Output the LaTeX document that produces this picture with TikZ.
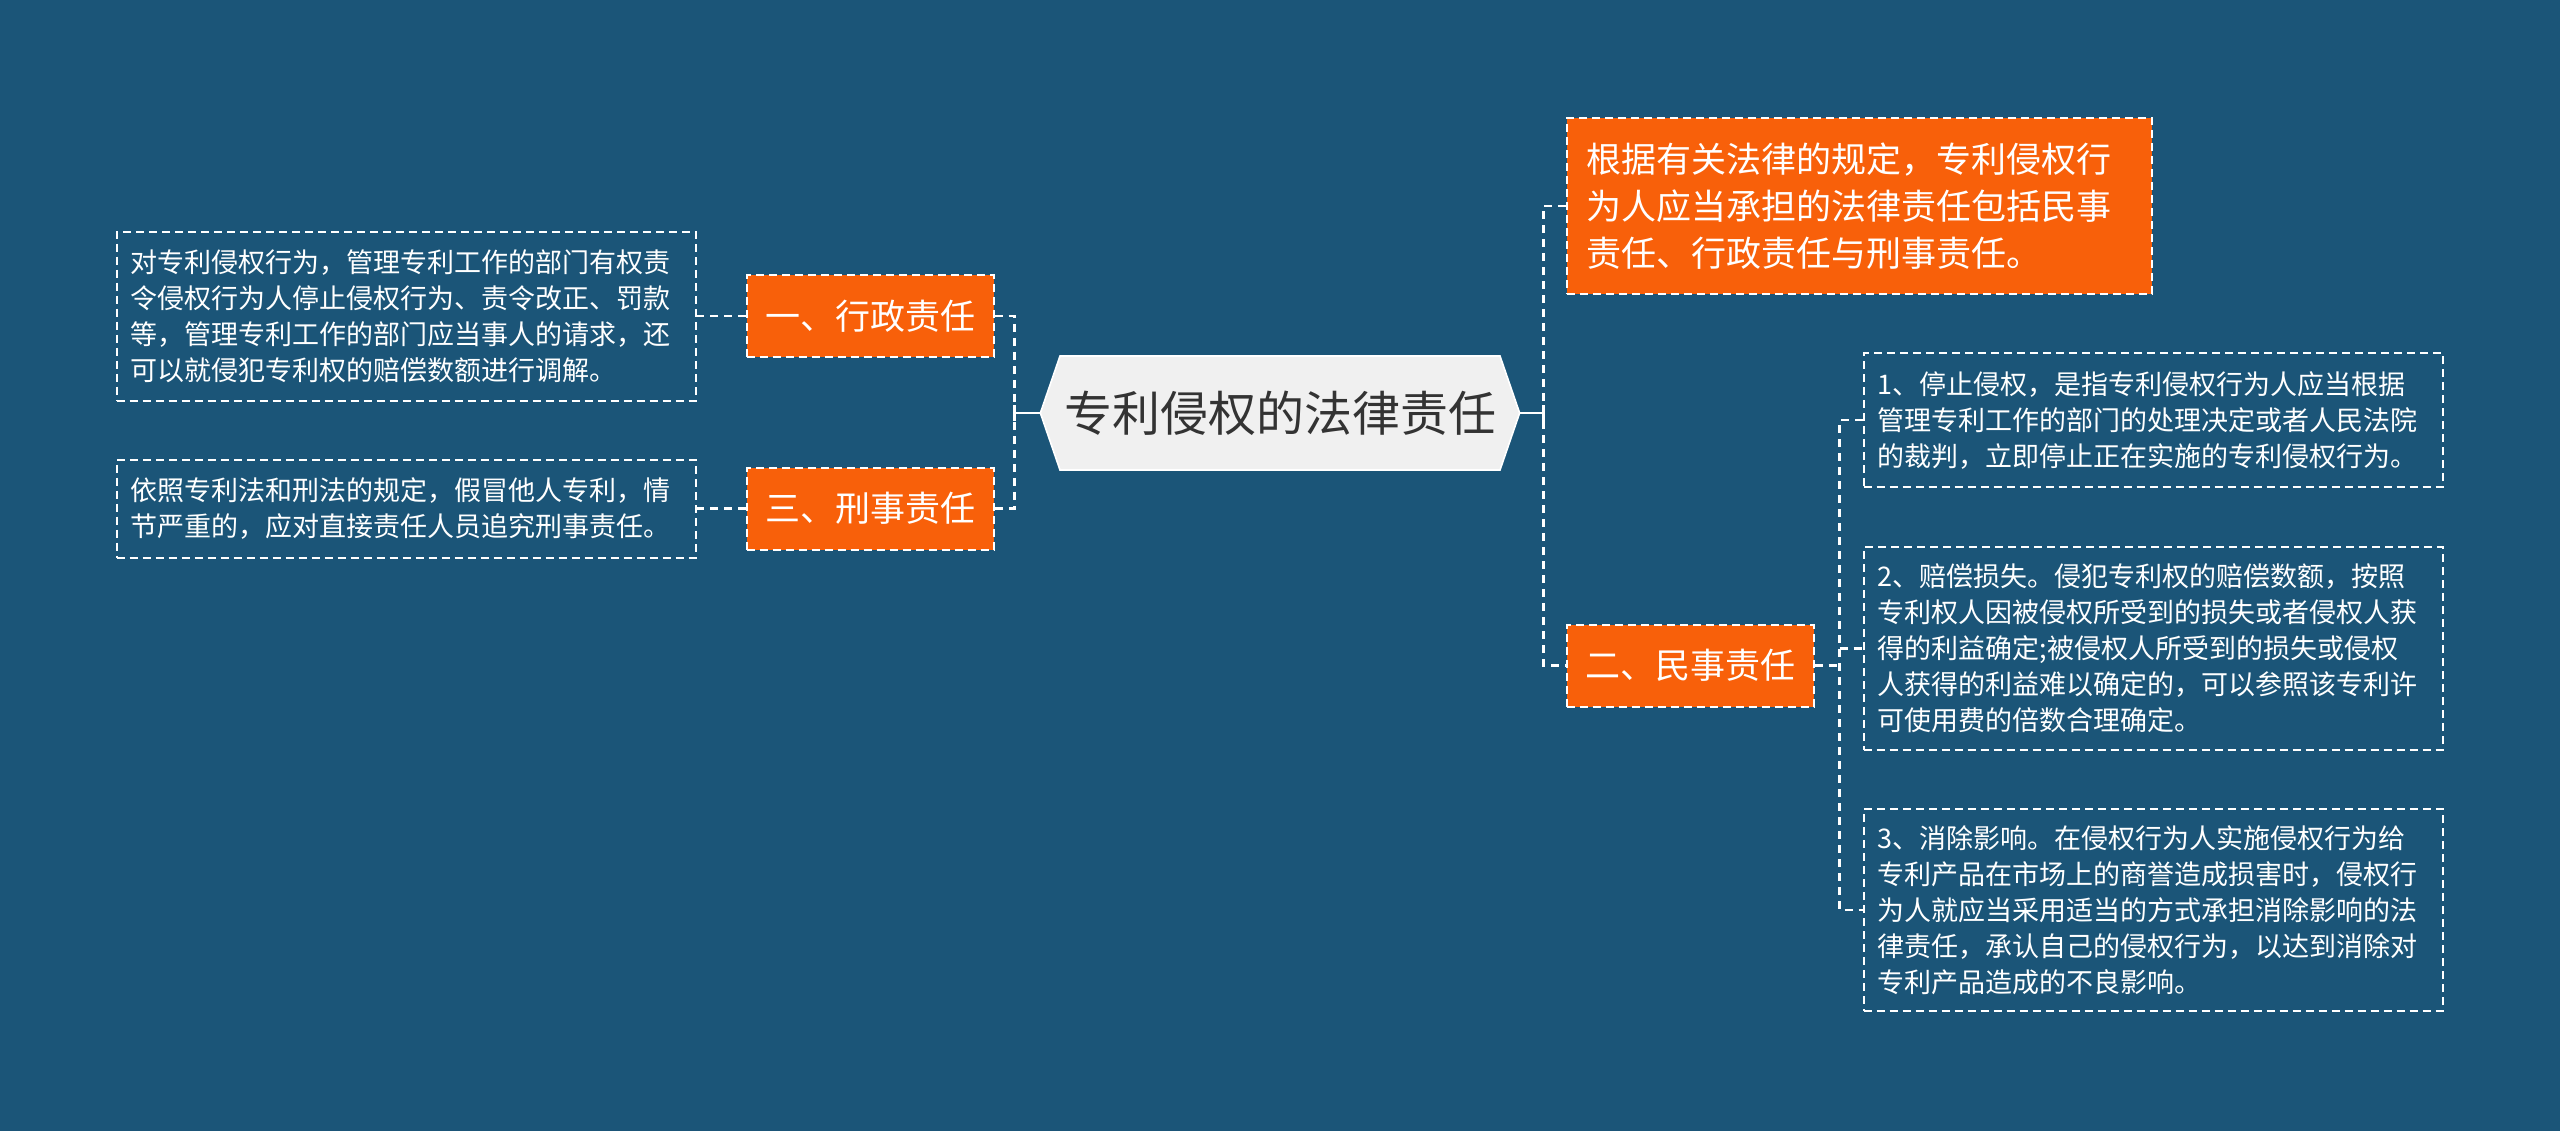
\documentclass[tikz,border=0pt]{standalone}
\usepackage{fontspec}
\setmainfont{Noto Sans CJK SC}
\usepackage{tikz}
\usetikzlibrary{shapes.symbols}
\definecolor{bgblue}{HTML}{1B5578}
\definecolor{mindorange}{HTML}{F8600A}
\definecolor{rootgray}{HTML}{F0F0F0}
\definecolor{rootink}{HTML}{333333}
\tikzstyle{root} = [signal, signal to=west and east, signal pointer angle=142, inner xsep=2pt, minimum width=217.5pt, minimum height=57pt, draw=white, line width=0.8pt, fill=rootgray, text=rootink, font=\fontsize{24}{28}\selectfont]
\tikzstyle{branch} = [rectangle, minimum width=123.5pt, minimum height=41pt, draw=white, line width=1pt, dash pattern=on 4pt off 2.5pt, fill=mindorange, text=white, font=\fontsize{17.5}{21}\selectfont]
\tikzstyle{summary} = [rectangle, text width=273.5pt, inner xsep=9.5pt, minimum height=88pt, align=left, draw=white, line width=1pt, dash pattern=on 4pt off 2.5pt, fill=mindorange, text=white, font=\fontsize{17.5}{23.5}\selectfont]
\tikzstyle{note} = [rectangle, text width=275.5pt, inner xsep=7pt, align=left, draw=white, line width=1pt, dash pattern=on 4pt off 2.5pt, text=white, font=\fontsize{13.5}{18}\selectfont]
\tikzstyle{link} = [draw=white, line width=1.2pt, dash pattern=on 4pt off 3pt]
\tikzstyle{stem} = [draw=white, line width=1.2pt]

\begin{document}
\begin{tikzpicture}[node distance=205pt]
  \fill [bgblue] (0,0) rectangle (1280pt,-565.5pt);
  \node (root) [root] at (640pt,-206.5pt) {专利侵权的法律责任};
  \node (admin) [branch, left of=root, yshift=48.5pt] {一、行政责任};
  \node (crime) [branch, left of=root, yshift=-47.75pt] {三、刑事责任};
  \node (civil) [branch, right of=root, yshift=-126.25pt] {二、民事责任};
  \node (adminnote) [note, minimum height=84.5pt, node distance=232pt, left of=admin] {对专利侵权行为，管理专利工作的部门有权责\\令侵权行为人停止侵权行为、责令改正、罚款\\等，管理专利工作的部门应当事人的请求，还\\可以就侵犯专利权的赔偿数额进行调解。};
  \node (crimenote) [note, minimum height=49pt, node distance=232pt, left of=crime] {依照专利法和刑法的规定，假冒他人专利，情\\节严重的，应对直接责任人员追究刑事责任。};
  \node (summary) [summary, node distance=289.75pt, right of=root, yshift=103.5pt] {根据有关法律的规定，专利侵权行\\为人应当承担的法律责任包括民事\\责任、行政责任与刑事责任。};
  \node (civilnote1) [note, minimum height=67pt, node distance=231.5pt, right of=civil, yshift=122.75pt] {1、停止侵权，是指专利侵权行为人应当根据\\管理专利工作的部门的处理决定或者人民法院\\的裁判，立即停止正在实施的专利侵权行为。};
  \node (civilnote2) [note, minimum height=101.5pt, node distance=231.5pt, right of=civil, yshift=8.5pt] {2、赔偿损失。侵犯专利权的赔偿数额，按照\\专利权人因被侵权所受到的损失或者侵权人获\\得的利益确定;被侵权人所受到的损失或侵权\\人获得的利益难以确定的，可以参照该专利许\\可使用费的倍数合理确定。};
  \node (civilnote3) [note, minimum height=101pt, node distance=231.5pt, right of=civil, yshift=-122.25pt] {3、消除影响。在侵权行为人实施侵权行为给\\专利产品在市场上的商誉造成损害时，侵权行\\为人就应当采用适当的方式承担消除影响的法\\律责任，承认自己的侵权行为，以达到消除对\\专利产品造成的不良影响。};

  \coordinate (ljoin) at ([xshift=-12.5pt]root.west);
  \coordinate (rjoin) at ([xshift=11.5pt]root.east);
  \coordinate (cjoin) at ([xshift=12.5pt]civil.east);

  \draw [stem] (root.west) -- (ljoin);
  \draw [stem] ([yshift=4pt]ljoin) -- ([yshift=-4pt]ljoin);
  \draw [stem] (root.east) -- (rjoin);
  \draw [stem] ([yshift=4pt]rjoin) -- ([yshift=-4pt]rjoin);
  \draw [link] (admin.east) -- (ljoin |- admin) -- (ljoin |- crime) -- (crime.east);
  \draw [link] (admin.west) -- (adminnote.east);
  \draw [link] (crime.west) -- (crimenote.east);
  \draw [link] (summary.west) -- (rjoin |- summary) -- (rjoin |- civil) -- (civil.west);
  \draw [link] (civil.east) -- (cjoin);
  \draw [link] (civilnote1.west) -- (cjoin |- civilnote1) -- (cjoin |- civilnote3) -- (civilnote3.west);
  \draw [link] (cjoin |- civilnote2) -- (civilnote2.west);
\end{tikzpicture}
\end{document}
